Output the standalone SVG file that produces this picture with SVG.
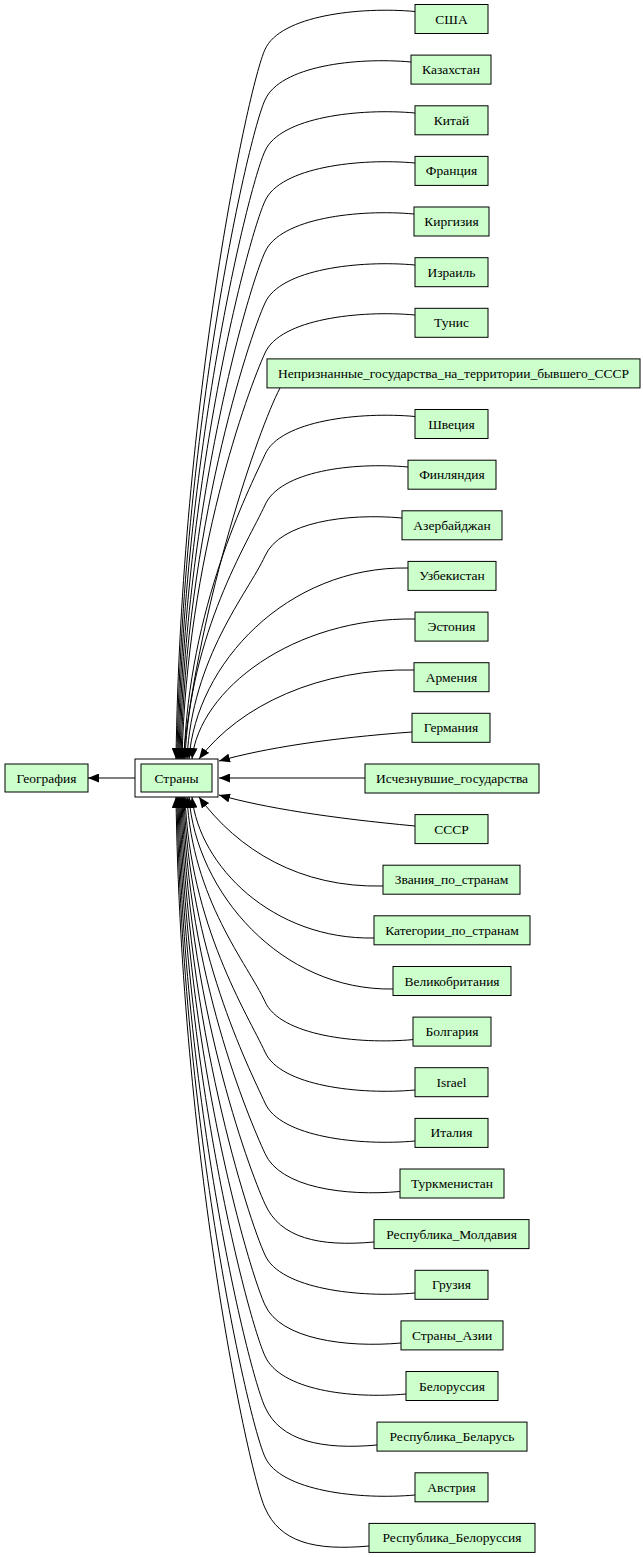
<svg xmlns="http://www.w3.org/2000/svg" width="643" height="1557" viewBox="0 0 643 1557">
<style>
.box{fill:#ccffcc;stroke:#000;stroke-width:1}
.outer{fill:#fff;stroke:#000;stroke-width:1}
.lbl{font-family:"Liberation Serif","Times New Roman",serif;font-size:13.5px;fill:#000;text-anchor:middle}
.e{fill:none;stroke:#000;stroke-width:1;marker-end:url(#ah)}
</style>
<defs>
<marker id="ah" viewBox="0 0 11 9" refX="11" refY="4.5" markerWidth="11" markerHeight="9" markerUnits="userSpaceOnUse" orient="auto">
<path d="M0,0 L11,4.5 L0,9 z" fill="#000"/>
</marker>
</defs>
<rect width="643" height="1557" fill="#fff"/>
<g id="edges">
<path class="e" d="M135,778 L88,778"/>
<path class="e" d="M415,11.5 C360,6.5 280,15.5 265,49.5 C248,86.5 181,404 176,759"/>
<path class="e" d="M411,62 C356,57 280,66 265,100 C248,137 182,430 177,759"/>
<path class="e" d="M415,113 C360,108 280,117 265,151 C248,188 183,455 178,759"/>
<path class="e" d="M415,163 C360,158 280,167 265,201 C248,238 184,480 179,759"/>
<path class="e" d="M414,214 C359,209 280,218 265,252 C248,289 185,506 180,759"/>
<path class="e" d="M415,265 C360,260 280,269 265,303 C248,340 186,531 181,759"/>
<path class="e" d="M415,315 C360,310 280,319 265,353 C248,390 187,556 182,759"/>
<path class="e" d="M280,388 C258,430 200,600 183,759"/>
<path class="e" d="M415,416.5 C360,411.5 280,420.5 265,454.5 C248,491.5 189,607 184,759"/>
<path class="e" d="M408,467 C353,462 280,471 265,505 C248,542 190,632 185,759"/>
<path class="e" d="M402,518 C347,513 280,522 265,556 C248,593 192,657 187,759"/>
<path class="e" d="M408,568 C287,566 196,664 189,759"/>
<path class="e" d="M415,619 C293,617 199,690 192,759"/>
<path class="e" d="M414,670 C320,668 240,705 199,759"/>
<path class="e" d="M412,732 C330,738 265,748 219,761"/>
<path class="e" d="M365,778 L219,778"/>
<path class="e" d="M415,826 C330,818 265,808 219,795"/>
<path class="e" d="M383,886 C300,888 238,850 199,797"/>
<path class="e" d="M374,938 C273,940 199,866 192,797"/>
<path class="e" d="M393,989 C281,991 196,892 189,797"/>
<path class="e" d="M413,1039.6 C358,1044.6 280,1035.6 265,1001.6 C248,964.6 192,899 187,797"/>
<path class="e" d="M415,1090 C360,1095 280,1086 265,1052 C248,1015 190,925 185,797"/>
<path class="e" d="M415,1141 C360,1146 280,1137 265,1103 C248,1066 189,950 184,797"/>
<path class="e" d="M400,1191.5 C345,1196.5 280,1187.5 265,1153.5 C248,1116.5 188,975 183,797"/>
<path class="e" d="M374,1242 C319,1247 280,1238 265,1204 C248,1167 187,1000 182,797"/>
<path class="e" d="M415,1293 C360,1298 280,1289 265,1255 C248,1218 186,1026 181,797"/>
<path class="e" d="M401,1343 C346,1348 280,1339 265,1305 C248,1268 185,1051 180,797"/>
<path class="e" d="M406,1394 C351,1399 280,1390 265,1356 C248,1319 184,1076 179,797"/>
<path class="e" d="M377,1445 C322,1450 280,1441 265,1407 C248,1370 183,1102 178,797"/>
<path class="e" d="M415,1495 C360,1500 280,1491 265,1457 C248,1420 182,1127 177,797"/>
<path class="e" d="M369,1546 C314,1551 280,1542 265,1508 C248,1471 181,1152 176,797"/>
</g>
<g id="geografiya"><rect class="box" x="5" y="764" width="83" height="28"/><text class="lbl" x="46.5" y="782.5">География</text></g>
<g id="strany"><rect class="outer" x="135" y="759" width="83" height="38"/><rect class="box" x="141" y="764" width="71" height="28"/><text class="lbl" x="176.5" y="782.5">Страны</text></g>
<g id="ssha"><rect class="box" x="415" y="4.5" width="73" height="29"/><text class="lbl" x="451.5" y="23.5">США</text></g>
<g id="kazakhstan"><rect class="box" x="411" y="55.1" width="80" height="29"/><text class="lbl" x="451" y="74.1">Казахстан</text></g>
<g id="kitay"><rect class="box" x="415" y="105.8" width="73" height="29"/><text class="lbl" x="451.5" y="124.8">Китай</text></g>
<g id="frantsiya"><rect class="box" x="415" y="156.4" width="73" height="29"/><text class="lbl" x="451.5" y="175.4">Франция</text></g>
<g id="kirgiziya"><rect class="box" x="414" y="207" width="75" height="29"/><text class="lbl" x="451.5" y="226">Киргизия</text></g>
<g id="izrail"><rect class="box" x="415" y="257.7" width="73" height="29"/><text class="lbl" x="451.5" y="276.7">Израиль</text></g>
<g id="tunis"><rect class="box" x="415" y="308.3" width="73" height="29"/><text class="lbl" x="451.5" y="327.3">Тунис</text></g>
<g id="nepriznannye"><rect class="box" x="267" y="358.9" width="373" height="29"/><text class="lbl" x="453.5" y="377.9">Непризнанные_государства_на_территории_бывшего_СССР</text></g>
<g id="shvetsiya"><rect class="box" x="415" y="409.5" width="73" height="29"/><text class="lbl" x="451.5" y="428.5">Швеция</text></g>
<g id="finlyandiya"><rect class="box" x="408" y="460.2" width="88" height="29"/><text class="lbl" x="452" y="479.2">Финляндия</text></g>
<g id="azerbaydzhan"><rect class="box" x="402" y="510.8" width="100" height="29"/><text class="lbl" x="452" y="529.8">Азербайджан</text></g>
<g id="uzbekistan"><rect class="box" x="408" y="561.4" width="88" height="29"/><text class="lbl" x="452" y="580.4">Узбекистан</text></g>
<g id="estoniya"><rect class="box" x="415" y="612.1" width="73" height="29"/><text class="lbl" x="451.5" y="631.1">Эстония</text></g>
<g id="armeniya"><rect class="box" x="414" y="662.7" width="75" height="29"/><text class="lbl" x="451.5" y="681.7">Армения</text></g>
<g id="germaniya"><rect class="box" x="412" y="713.3" width="78" height="29"/><text class="lbl" x="451" y="732.3">Германия</text></g>
<g id="ischeznuvshie"><rect class="box" x="365" y="764" width="174" height="29"/><text class="lbl" x="452" y="783">Исчезнувшие_государства</text></g>
<g id="sssr"><rect class="box" x="415" y="814.6" width="73" height="29"/><text class="lbl" x="451.5" y="833.6">СССР</text></g>
<g id="zvaniya"><rect class="box" x="383" y="865.2" width="137" height="29"/><text class="lbl" x="451.5" y="884.2">Звания_по_странам</text></g>
<g id="kategorii"><rect class="box" x="374" y="915.8" width="156" height="29"/><text class="lbl" x="452" y="934.8">Категории_по_странам</text></g>
<g id="velikobritaniya"><rect class="box" x="393" y="966.5" width="118" height="29"/><text class="lbl" x="452" y="985.5">Великобритания</text></g>
<g id="bolgariya"><rect class="box" x="413" y="1017.1" width="78" height="29"/><text class="lbl" x="452" y="1036.1">Болгария</text></g>
<g id="israel"><rect class="box" x="415" y="1067.7" width="73" height="29"/><text class="lbl" x="451.5" y="1086.7">Israel</text></g>
<g id="italiya"><rect class="box" x="415" y="1118.4" width="73" height="29"/><text class="lbl" x="451.5" y="1137.4">Италия</text></g>
<g id="turkmenistan"><rect class="box" x="400" y="1169" width="104" height="29"/><text class="lbl" x="452" y="1188">Туркменистан</text></g>
<g id="moldaviya"><rect class="box" x="374" y="1219.6" width="155" height="29"/><text class="lbl" x="451.5" y="1238.6">Республика_Молдавия</text></g>
<g id="gruziya"><rect class="box" x="415" y="1270.3" width="73" height="29"/><text class="lbl" x="451.5" y="1289.3">Грузия</text></g>
<g id="strany_azii"><rect class="box" x="401" y="1320.9" width="102" height="29"/><text class="lbl" x="452" y="1339.9">Страны_Азии</text></g>
<g id="belorussiya"><rect class="box" x="406" y="1371.5" width="92" height="29"/><text class="lbl" x="452" y="1390.5">Белоруссия</text></g>
<g id="belarus"><rect class="box" x="377" y="1422.1" width="150" height="29"/><text class="lbl" x="452" y="1441.1">Республика_Беларусь</text></g>
<g id="avstriya"><rect class="box" x="415" y="1472.8" width="73" height="29"/><text class="lbl" x="451.5" y="1491.8">Австрия</text></g>
<g id="resp_belorussiya"><rect class="box" x="369" y="1523.4" width="166" height="29"/><text class="lbl" x="452" y="1542.4">Республика_Белоруссия</text></g>
</svg>
